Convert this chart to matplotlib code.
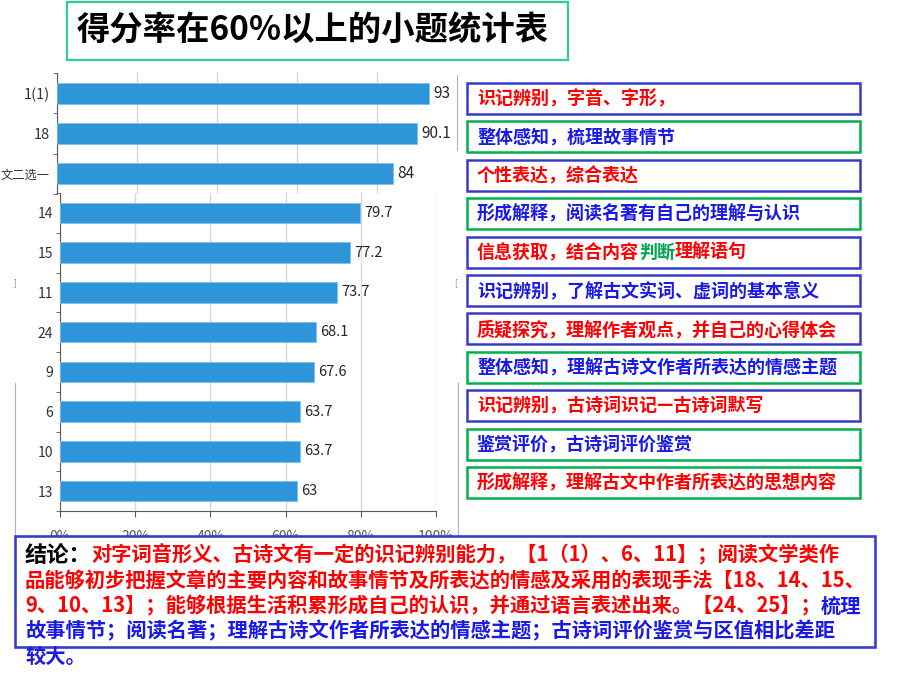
import matplotlib
matplotlib.use("Agg")
import matplotlib.pyplot as plt
from matplotlib.patches import Rectangle
from matplotlib import font_manager
import numpy as np

plt.rcParams['font.family'] = ['Noto Sans CJK SC', 'DejaVu Sans']
_names = {f.name for f in font_manager.fontManager.ttflist}
HAS_NARROW = 'Liberation Sans Narrow' in _names
NARROW = ['Liberation Sans Narrow', 'Noto Sans CJK SC'] if HAS_NARROW else ['Noto Sans CJK SC', 'DejaVu Sans']

# ---------------- data ----------------
categories = ['1(1)', '18', '文二选一', '14', '15', '11', '24', '9', '6', '10', '13']
values = [93, 90.1, 84, 79.7, 77.2, 73.7, 68.1, 67.6, 63.7, 63.7, 63]
x_ticks = [0, 20, 40, 60, 80, 100]
x_tick_labels = ['0%', '20%', '40%', '60%', '80%', '100%']
split_at = 3  # the first rows are an enlarged pasted piece in the original slide

title_text = '得分率在60%以上的小题统计表'

RED, BLUE, GREEN, BLACK = '#FF0000', '#1A1AE6', '#00A650', '#000000'
BOX_BLUE, BOX_GREEN = '#3A3AC8', '#00B050'

box_segments = [
    [('识记辨别，字音、字形，', RED)],
    [('整体感知，梳理故事情节', BLUE)],
    [('个性表达，综合表达', RED)],
    [('形成解释，阅读名著有自己的理解与认识', BLUE)],
    [('信息获取，结合内容', RED), ('判断', GREEN), ('理解语句', RED)],
    [('识记辨别，了解古文实词、虚词的基本意义', BLUE)],
    [('质疑探究，理解作者观点，并自己的心得体会', RED)],
    [('整体感知，理解古诗文作者所表达的情感主题', BLUE)],
    [('识记辨别，古诗词识记—古诗词默写', RED)],
    [('鉴赏评价，古诗词评价鉴赏', BLUE)],
    [('形成解释，理解古文中作者所表达的思想内容', RED)],
]
box_borders = [BOX_BLUE, BOX_GREEN, BOX_BLUE, BOX_GREEN, BOX_BLUE, BOX_BLUE,
               BOX_BLUE, BOX_GREEN, BOX_BLUE, BOX_GREEN, BOX_GREEN]

conclusion_lines = [
    [('结论：', BLACK), ('对字词音形义、古诗文有一定的识记辨别能力，【1（1）、6、11】；阅读文学类作', RED)],
    [('品能够初步把握文章的主要内容和故事情节及所表达的情感及采用的表现手法【18、14、15、', RED)],
    [('9、10、13】；能够根据生活积累形成自己的认识，并通过语言表述出来。【24、25】；', RED), ('梳理', BLUE)],
    [('故事情节；阅读名著；理解古诗文作者所表达的情感主题；古诗词评价鉴赏与区值相比差距', BLUE)],
    [('较大。', BLUE)],
]

# ---------------- figure ----------------
W, H = 920, 690
fig = plt.figure(figsize=(W / 100, H / 100), dpi=100)
fig.patch.set_facecolor('white')

lab_fs = 12 if HAS_NARROW else 10
val_fs = 12 if HAS_NARROW else 10.5


def make_axes(l, r, t, b):
    return fig.add_axes([l / W, 1 - b / H, (r - l) / W, (b - t) / H])


def style_bar_axes(ax, cats, vals, show_x, fs_scale=1.0, grid_ticks=None):
    yy = np.arange(len(cats))
    bars = ax.barh(yy, vals, height=0.52, color='#2E95D8', edgecolor='#7FC0EC', linewidth=0.6, zorder=3)
    ax.bar_label(bars, labels=[f'{v:g}' for v in vals], padding=3, fontsize=val_fs * fs_scale,
                 color='#262626', family=NARROW)
    ax.set_xlim(0, 100)
    ax.set_ylim(len(cats) - 0.5, -0.5)
    ax.set_yticks(yy)
    ax.set_yticklabels(cats, fontsize=lab_fs * fs_scale, color='#333333', family=NARROW)
    for lbl in ax.get_yticklabels():
        if any(ord(c) > 127 for c in lbl.get_text()):
            lbl.set_fontsize(8.8)
            lbl.set_family(['Noto Sans CJK SC', 'DejaVu Sans'])
    ax.set_yticks(np.arange(len(cats) + 1) - 0.5, minor=True)
    ax.tick_params(axis='y', which='major', length=0, pad=5)
    ax.tick_params(axis='y', which='minor', length=3, direction='out', color='#595959')
    ax.set_xticks(grid_ticks if grid_ticks is not None else x_ticks)
    if show_x:
        ax.set_xticklabels(x_tick_labels, fontsize=lab_fs, color='#595959', family=NARROW)
        ax.tick_params(axis='x', length=4, direction='out', color='#595959', pad=10)
    else:
        ax.tick_params(axis='x', length=0, labelbottom=False)
    ax.grid(axis='x', color='#D9D9D9', linewidth=1, zorder=0)
    for s in ['top', 'right']:
        ax.spines[s].set_visible(False)
    ax.spines['left'].set_color('#595959')
    ax.spines['bottom'].set_color('#595959')
    ax.spines['bottom'].set_visible(show_x)
    ax.patch.set_visible(False)


# lower (main) piece of the chart
ax_lo = make_axes(60, 436, 193, 511)
style_bar_axes(ax_lo, categories[split_at:], values[split_at:], show_x=True)
# upper, slightly enlarged piece
ax_hi = make_axes(57, 457, 73, 194)
style_bar_axes(ax_hi, categories[:split_at], values[:split_at], show_x=False, fs_scale=1.05,
               grid_ticks=x_ticks[:-1])

# overlay axes in pixel units
ov = fig.add_axes([0, 0, 1, 1])
ov.set_xlim(0, W)
ov.set_ylim(H, 0)
ov.axis('off')
ov.patch.set_visible(False)
renderer = fig.canvas.get_renderer()


def draw_segments(x, yc, segments, size, zorder=3):
    for txt, col in segments:
        fs = 16 if col == BLACK else size
        t = ov.text(x, yc, txt, color=col, fontsize=fs, fontweight='bold',
                    ha='left', va='center', zorder=zorder)
        bb = t.get_window_extent(renderer=renderer)
        x += bb.width


# faint frame remnants of the pasted pictures
for (x0, y0, y1) in [(15, 383, 540), (458, 383, 540), (457, 75, 150)]:
    ov.plot([x0, x0], [y0, y1], color='#A8B2CC', linewidth=0.8)
ov.text(15, 283, ']', fontsize=6, color='#8090B0', ha='center', va='center')
ov.text(456, 283, '[', fontsize=6, color='#8090B0', ha='center', va='center')

# title box
ov.add_patch(Rectangle((67, 2), 501, 58, fill=False, edgecolor='#33CC99', linewidth=1.6))
ov.text(77, 31, title_text, fontsize=24, fontweight='bold', color='black', ha='left', va='center')

# right boxes
bx0, bx1 = 467, 860
top0, step, bh = 83, 38.4, 31
for i, (segs, bc) in enumerate(zip(box_segments, box_borders)):
    yt = top0 + i * step
    ov.add_patch(Rectangle((bx0, yt), bx1 - bx0, bh, facecolor='white', edgecolor=bc, linewidth=1.8))
    draw_segments(477, yt + bh / 2 + 0.5, segs, 13)

# conclusion box
ov.add_patch(Rectangle((15, 536), 860, 111, facecolor='white', edgecolor='#3C3CCC', linewidth=1.9, zorder=5))
line_y = [555, 581, 606, 631, 656]
for yl, segs in zip(line_y, conclusion_lines):
    draw_segments(25, yl, segs, 14.6, zorder=6)

fig.savefig('out.png', dpi=100)
